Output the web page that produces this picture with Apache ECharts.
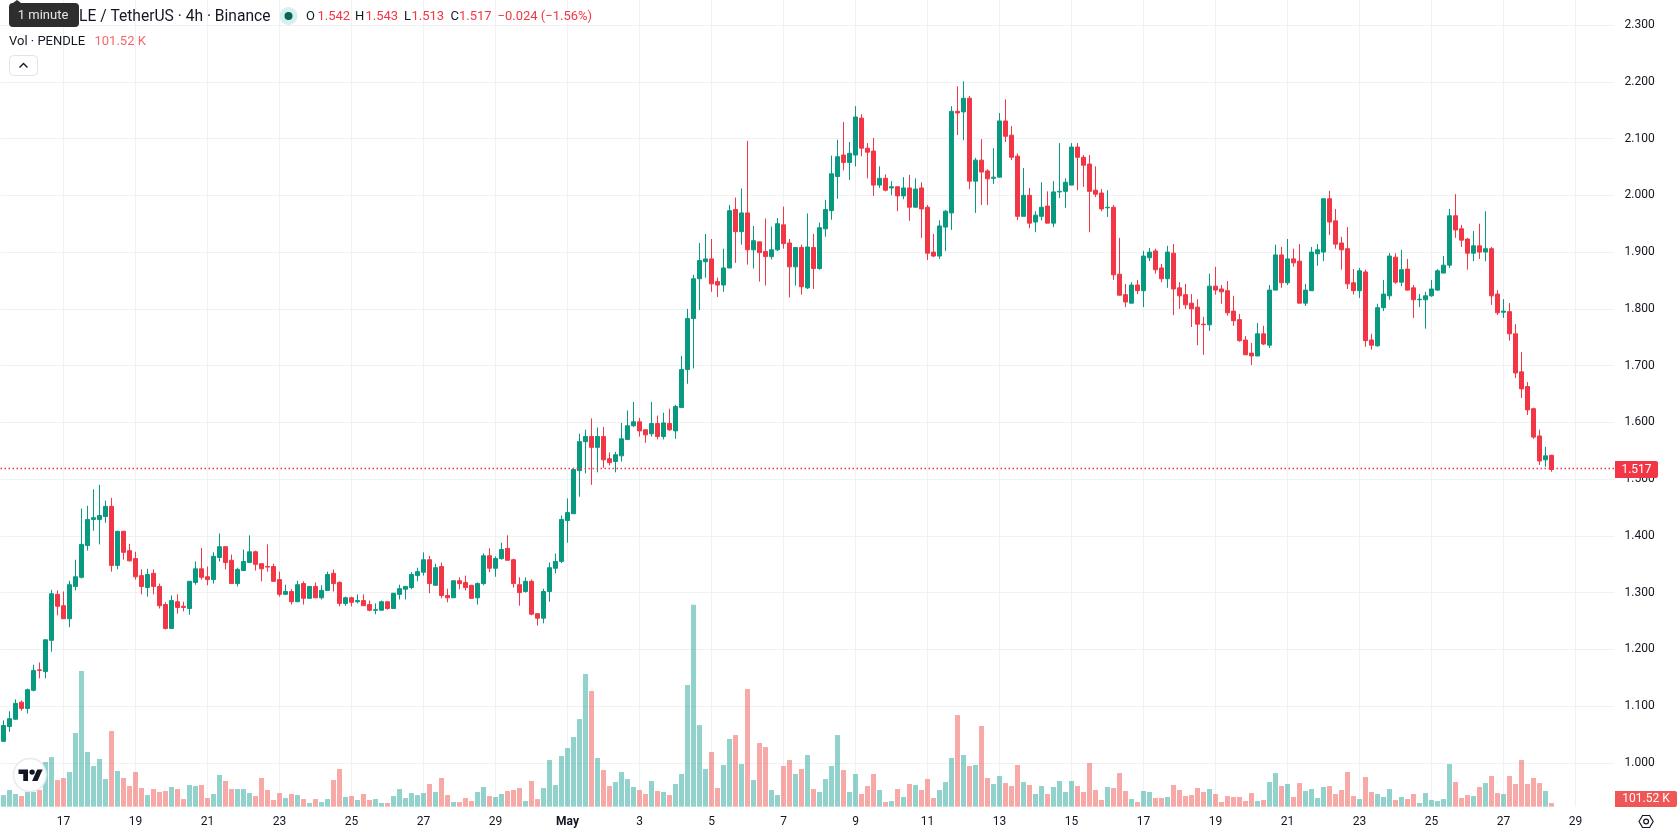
<!DOCTYPE html>
<html>
<head>
<meta charset="utf-8">
<title>PENDLE / TetherUS 4h</title>
<style>html,body{margin:0;padding:0;background:#fff}#chart{width:1678px;height:835px}</style>
<script src="https://cdn.jsdelivr.net/npm/echarts@6/dist/echarts.min.js"></script>
</head>
<body>
<div id="chart"></div>
<script>
// 4h candles, oldest first
const opens = [
1.038,1.064,1.077,1.107,1.096,1.128,1.164,1.161,1.216,1.297,
1.277,1.254,1.311,1.327,1.383,1.429,1.429,1.434,1.452,1.348,
1.408,1.374,1.360,1.330,1.309,1.334,1.311,1.279,1.237,1.284,
1.276,1.272,1.318,1.342,1.328,1.323,1.362,1.381,1.357,1.316,
1.339,1.353,1.372,1.351,1.346,1.346,1.323,1.297,1.302,1.284,
1.316,1.290,1.311,1.291,1.304,1.334,1.318,1.281,1.291,1.284,
1.286,1.279,1.269,1.269,1.284,1.272,1.297,1.306,1.309,1.330,
1.336,1.358,1.313,1.346,1.295,1.291,1.321,1.318,1.313,1.291,
1.316,1.365,1.343,1.360,1.378,1.358,1.314,1.302,1.320,1.263,
1.255,1.302,1.343,1.355,1.427,1.439,1.515,1.566,1.575,1.556,
1.575,1.536,1.531,1.541,1.570,1.594,1.601,1.587,1.580,1.598,
1.575,1.598,1.585,1.626,1.693,1.783,1.853,1.883,1.888,1.848,
1.842,1.872,1.975,1.936,1.969,1.904,1.918,1.901,1.892,1.904,
1.948,1.916,1.874,1.908,1.837,1.908,1.871,1.941,1.973,2.033,
2.071,2.058,2.071,2.136,2.083,2.078,2.018,2.030,2.013,2.015,
1.999,2.013,1.979,2.013,1.979,1.900,1.893,1.944,1.969,2.148,
2.147,2.171,2.025,2.062,2.043,2.030,2.032,2.131,2.106,2.069,
1.963,2.000,1.953,1.963,1.981,1.951,2.006,2.007,2.018,2.085,
2.067,2.055,2.009,2.004,1.978,1.979,1.861,1.825,1.810,1.842,
1.832,1.890,1.902,1.872,1.853,1.898,1.837,1.825,1.810,1.803,
1.773,1.772,1.840,1.835,1.832,1.796,1.781,1.745,1.722,1.717,
1.756,1.736,1.833,1.895,1.846,1.888,1.884,1.810,1.832,1.897,
1.900,1.994,1.955,1.916,1.906,1.846,1.832,1.865,1.745,1.735,
1.802,1.823,1.891,1.847,1.870,1.837,1.816,1.816,1.823,1.833,
1.863,1.877,1.964,1.941,1.923,1.898,1.911,1.900,1.906,1.826,
1.794,1.795,1.756,1.689,1.663,1.624,1.576,1.534,1.542];
const closes = [
1.066,1.078,1.105,1.096,1.129,1.163,1.163,1.217,1.298,1.276,
1.254,1.314,1.328,1.385,1.429,1.432,1.436,1.452,1.348,1.408,
1.371,1.356,1.328,1.311,1.332,1.311,1.277,1.237,1.286,1.274,
1.274,1.320,1.342,1.327,1.323,1.364,1.381,1.353,1.316,1.341,
1.355,1.372,1.350,1.342,1.345,1.320,1.297,1.302,1.284,1.314,
1.290,1.311,1.291,1.304,1.332,1.316,1.281,1.291,1.283,1.286,
1.277,1.269,1.270,1.284,1.272,1.299,1.307,1.311,1.332,1.337,
1.358,1.316,1.344,1.295,1.291,1.321,1.316,1.309,1.290,1.316,
1.365,1.343,1.360,1.376,1.357,1.316,1.300,1.320,1.262,1.255,
1.302,1.344,1.355,1.429,1.441,1.517,1.566,1.575,1.556,1.575,
1.534,1.529,1.543,1.571,1.594,1.601,1.585,1.578,1.598,1.575,
1.599,1.587,1.628,1.693,1.783,1.853,1.885,1.888,1.844,1.842,
1.872,1.973,1.936,1.969,1.904,1.920,1.899,1.892,1.904,1.950,
1.915,1.874,1.908,1.839,1.909,1.871,1.943,1.975,2.038,2.068,
2.058,2.074,2.138,2.083,2.076,2.018,2.030,2.009,2.015,1.999,
2.013,1.979,2.011,1.976,1.898,1.893,1.946,1.972,2.148,2.145,
2.171,2.025,2.062,2.041,2.029,2.032,2.131,2.104,2.067,1.963,
2.000,1.951,1.965,1.979,1.951,2.006,2.007,2.023,2.085,2.067,
2.053,2.007,2.002,1.976,1.979,1.860,1.824,1.812,1.842,1.832,
1.893,1.900,1.869,1.853,1.900,1.835,1.823,1.807,1.800,1.773,
1.772,1.840,1.833,1.830,1.793,1.779,1.744,1.719,1.717,1.756,
1.738,1.833,1.895,1.846,1.888,1.881,1.810,1.833,1.900,1.904,
1.994,1.953,1.914,1.904,1.844,1.832,1.867,1.744,1.736,1.802,
1.826,1.893,1.847,1.869,1.833,1.816,1.817,1.823,1.835,1.867,
1.877,1.964,1.939,1.921,1.898,1.911,1.900,1.906,1.823,1.793,
1.796,1.756,1.687,1.659,1.622,1.574,1.532,1.541,1.517];
const highs = [
1.075,1.091,1.112,1.110,1.131,1.173,1.177,1.217,1.305,1.304,
1.302,1.321,1.358,1.448,1.453,1.482,1.490,1.462,1.467,1.409,
1.409,1.386,1.372,1.341,1.342,1.341,1.316,1.283,1.295,1.297,
1.284,1.320,1.355,1.379,1.346,1.371,1.404,1.381,1.367,1.344,
1.376,1.401,1.374,1.351,1.385,1.351,1.337,1.314,1.306,1.321,
1.320,1.311,1.318,1.313,1.337,1.341,1.320,1.293,1.293,1.297,
1.297,1.286,1.281,1.286,1.284,1.299,1.314,1.311,1.336,1.344,
1.371,1.365,1.351,1.353,1.307,1.321,1.327,1.330,1.313,1.318,
1.369,1.378,1.364,1.388,1.401,1.360,1.327,1.327,1.323,1.263,
1.307,1.353,1.369,1.436,1.466,1.520,1.580,1.587,1.607,1.591,
1.592,1.547,1.548,1.599,1.621,1.636,1.608,1.587,1.636,1.612,
1.617,1.624,1.631,1.717,1.800,1.860,1.916,1.932,1.923,1.855,
1.906,1.983,1.996,2.012,2.096,1.946,1.918,1.959,1.945,1.960,
1.980,1.923,1.909,1.913,1.968,1.932,1.952,1.992,2.070,2.098,
2.129,2.094,2.157,2.143,2.092,2.101,2.051,2.037,2.025,2.016,
2.032,2.036,2.030,2.023,1.983,1.932,1.956,1.974,2.157,2.192,
2.201,2.175,2.066,2.099,2.046,2.083,2.145,2.169,2.122,2.074,
2.048,2.013,1.972,2.023,2.007,2.025,2.092,2.030,2.092,2.092,
2.071,2.071,2.051,2.011,2.009,1.983,1.925,1.844,1.847,1.851,
1.902,1.907,1.906,1.879,1.911,1.914,1.847,1.844,1.826,1.817,
1.786,1.862,1.874,1.842,1.849,1.823,1.791,1.752,1.740,1.775,
1.770,1.842,1.913,1.909,1.923,1.906,1.914,1.844,1.909,1.914,
1.994,2.008,1.976,1.927,1.944,1.870,1.872,1.869,1.756,1.809,
1.851,1.898,1.898,1.904,1.888,1.842,1.826,1.830,1.851,1.870,
1.893,1.976,2.002,1.948,1.925,1.937,1.950,1.972,1.909,1.833,
1.817,1.810,1.773,1.724,1.671,1.626,1.587,1.557,1.543];
const lows = [
1.038,1.055,1.076,1.092,1.087,1.126,1.149,1.149,1.196,1.260,
1.254,1.239,1.304,1.325,1.374,1.409,1.385,1.423,1.337,1.341,
1.358,1.355,1.323,1.297,1.293,1.297,1.272,1.235,1.237,1.263,
1.267,1.261,1.314,1.323,1.313,1.316,1.355,1.341,1.316,1.311,
1.339,1.353,1.339,1.320,1.337,1.320,1.293,1.297,1.279,1.284,
1.279,1.290,1.290,1.288,1.304,1.302,1.276,1.277,1.276,1.281,
1.277,1.267,1.262,1.269,1.270,1.272,1.288,1.288,1.306,1.320,
1.330,1.299,1.313,1.290,1.283,1.291,1.306,1.304,1.290,1.279,
1.313,1.336,1.328,1.358,1.357,1.309,1.277,1.300,1.260,1.242,
1.246,1.284,1.334,1.352,1.388,1.439,1.469,1.510,1.490,1.512,
1.520,1.524,1.512,1.531,1.570,1.592,1.575,1.564,1.575,1.570,
1.570,1.585,1.571,1.626,1.668,1.695,1.798,1.855,1.830,1.821,
1.830,1.872,1.881,1.913,1.878,1.871,1.848,1.841,1.887,1.902,
1.906,1.820,1.841,1.825,1.835,1.835,1.869,1.927,1.957,1.994,
2.044,2.027,2.051,2.069,2.030,1.999,2.013,2.007,2.000,1.972,
1.993,1.955,1.979,1.925,1.886,1.891,1.888,1.902,1.939,2.106,
2.097,2.011,1.969,1.983,1.983,2.020,2.032,2.094,2.062,1.956,
1.963,1.942,1.935,1.956,1.951,1.944,1.995,1.978,2.018,2.009,
2.015,1.935,1.997,1.972,1.962,1.851,1.824,1.803,1.810,1.826,
1.803,1.884,1.862,1.847,1.837,1.789,1.800,1.800,1.768,1.736,
1.719,1.761,1.825,1.809,1.788,1.770,1.742,1.719,1.701,1.717,
1.736,1.731,1.833,1.837,1.842,1.874,1.810,1.805,1.832,1.876,
1.884,1.930,1.906,1.869,1.835,1.825,1.819,1.733,1.728,1.733,
1.796,1.816,1.844,1.840,1.832,1.784,1.803,1.765,1.821,1.832,
1.863,1.872,1.925,1.909,1.869,1.884,1.888,1.884,1.807,1.789,
1.784,1.744,1.678,1.643,1.613,1.571,1.525,1.522,1.513];
// traded volume per candle, thousands of PENDLE
const volumes = [
323,462,351,295,406,406,462,1237,1375,738,
794,960,2040,3757,1514,1126,1320,766,2095,988,
794,572,960,517,323,489,406,434,545,489,
212,600,572,600,240,351,877,711,489,489,
489,378,295,794,462,185,378,240,351,323,
212,102,212,129,212,738,1043,268,295,185,
351,185,212,102,102,295,489,240,378,323,
378,628,406,794,323,129,129,240,157,406,
545,295,268,351,434,462,517,157,711,212,
517,1292,600,1403,1624,1929,2427,3674,3203,1348,
1015,572,683,960,766,545,462,351,711,434,
406,323,628,905,3369,5593,2261,1043,1514,517,
1154,1874,1984,1181,3258,738,1763,1652,462,323,
1126,1292,905,1043,1431,489,406,766,1126,1984,
1015,406,905,351,572,905,462,129,157,489,
268,628,600,462,766,240,462,683,1348,2538,
1431,1126,1154,2234,794,628,849,655,572,1154,
683,600,351,572,351,545,711,406,711,572,
406,1209,462,185,545,517,932,434,212,129,
434,406,240,240,268,600,462,295,323,517,
406,489,351,129,295,268,268,157,378,157,
185,683,932,572,628,268,655,434,489,240,
545,572,351,462,960,295,212,821,406,351,
268,489,185,268,212,351,102,378,185,157,
212,1181,683,240,323,295,545,655,849,378,
351,849,628,1292,628,794,655,434,101.52];

const priceTicks = [1.0,1.1,1.2,1.3,1.4,1.5,1.6,1.7,1.8,1.9,2.0,2.1,2.2,2.3];
const dateLabels = ['17','19','21','23','25','27','29','May','3','5','7','9','11','13','15','17','19','21','23','25','27','29'];
const lastPrice = 1.517;
const lastVolumeText = '101.52 K';

const FIRST_LABEL_INDEX = 10;   // candle sitting on the first dated tick
const LABEL_EVERY = 12;         // 6 candles a day, a label every second day
const FUTURE_SLOTS = 10;        // empty room to the right of the newest candle
const UP = '#089981', DOWN = '#F23645';
const FONT = 'Roboto, "Noto Sans", sans-serif';
const INK = '#131722';
const GRID_LINE = '#f0f1f3';

const slots = [];
for (let i = 0; i < opens.length + FUTURE_SLOTS; i++) slots.push(String(i));
const isDated = i => i >= FIRST_LABEL_INDEX && (i - FIRST_LABEL_INDEX) % LABEL_EVERY === 0;

const candles = opens.map((o, i) => [o, closes[i], lows[i], highs[i]]);

function label(text, x, y, fill, size, extra, z) {
  return {type: 'text', z: z || 30, silent: true, style: Object.assign({
    text, x, y, fill, font: `${size}px ${FONT}`, textVerticalAlign: 'middle', textBaseline: 'middle'
  }, extra || {})};
}

const overlay = [
  // headline
  label('LE / TetherUS · 4h · Binance', 79, 17, INK, 15.6),
  {type: 'circle', z: 30, silent: true, shape: {cx: 288.5, cy: 16, r: 9}, style: {fill: '#d9efec'}},
  {type: 'circle', z: 31, silent: true, shape: {cx: 288.5, cy: 16, r: 4}, style: {fill: '#056656'}},
  label('O', 306, 17, INK, 13), label('1.542', 317.5, 17, DOWN, 13),
  label('H', 355, 17, INK, 13), label('1.543', 365.5, 17, DOWN, 13),
  label('L', 404, 17, INK, 13), label('1.513', 411.5, 17, DOWN, 13),
  label('C', 450.5, 17, INK, 13), label('1.517', 459, 17, DOWN, 13),
  label('−0.024 (−1.56%)', 497.5, 17, DOWN, 13),
  label('Vol · PENDLE', 9, 41.5, INK, 13),
  label(lastVolumeText, 94.5, 41.5, '#F6676B', 13),
  // collapse button
  {type: 'rect', z: 30, silent: true, shape: {x: 9.5, y: 55.5, width: 28, height: 20, r: 4}, style: {fill: '#fff', stroke: '#e0e3eb', lineWidth: 1}},
  {type: 'polyline', z: 31, silent: true, shape: {points: [[19.5, 67.5], [23.5, 63.5], [27.5, 67.5]]}, style: {stroke: INK, lineWidth: 1.4, fill: 'none'}},
  // hover hint
  {type: 'rect', z: 32, silent: true, shape: {x: 9, y: 3, width: 70, height: 24, r: 4}, style: {fill: '#2e2e2e'}},
  {type: 'polygon', z: 32, silent: true, shape: {points: [[13, 3], [17, 0], [21, 3]]}, style: {fill: '#2e2e2e'}},
  label('1 minute', 43, 15.5, '#e6e6e6', 13, {textAlign: 'center', align: 'center'}, 33),
  // last price and last volume tags
  {type: 'rect', z: 30, silent: true, shape: {x: 1615, y: 461, width: 43, height: 17, r: [0, 2, 2, 0]}, style: {fill: DOWN}},
  label('1.517', 1636.5, 469.5, '#fff', 12, {textAlign: 'center', align: 'center'}, 31),
  {type: 'rect', z: 30, silent: true, shape: {x: 1615, y: 791, width: 62, height: 16, r: [0, 2, 2, 0]}, style: {fill: '#F05656'}},
  label(lastVolumeText, 1646, 799, '#fff', 12, {textAlign: 'center', align: 'center'}, 31),
  // settings cog
  {type: 'polygon', z: 30, silent: true, shape: {points: [[1639, 821.5], [1642.6, 815.5], [1649.6, 815.5], [1653.2, 821.5], [1649.6, 827.5], [1642.6, 827.5]]}, style: {fill: '#fff', stroke: INK, lineWidth: 1.2}},
  {type: 'circle', z: 31, silent: true, shape: {cx: 1646.1, cy: 821.5, r: 2.4}, style: {fill: '#fff', stroke: INK, lineWidth: 1.2}},
  // watermark badge
  {type: 'circle', z: 28, silent: true, shape: {cx: 30, cy: 775, r: 16.5}, style: {fill: 'rgba(255,255,255,0.92)', stroke: 'rgba(224,227,235,0.8)', lineWidth: 1.5}},
  {type: 'group', z: 29, silent: true, x: 18.5, y: 767, scaleX: 0.68, scaleY: 0.64, children: [
    {type: 'polygon', z: 29, shape: {points: [[14, 22], [7, 22], [7, 11], [0, 11], [0, 4], [14, 4]]}, style: {fill: '#131722'}},
    {type: 'polygon', z: 29, shape: {points: [[28, 22], [20, 22], [27.5, 4], [35.5, 4]]}, style: {fill: '#131722'}},
    {type: 'circle', z: 29, shape: {cx: 20, cy: 8, r: 4}, style: {fill: '#131722'}}
  ]}
];

const chart = echarts.init(document.getElementById('chart'), null, {renderer: 'canvas'});
chart.setOption({
  animation: false,
  backgroundColor: '#fff',
  textStyle: {fontFamily: FONT},
  grid: {left: 0.5, top: 0, width: 1614, height: 806.7, containLabel: false},
  xAxis: {
    type: 'category',
    data: slots,
    boundaryGap: true,
    axisLine: {show: false},
    axisTick: {show: false},
    axisLabel: {
      interval: (i) => isDated(i),
      margin: 9,
      color: INK,
      fontSize: 12,
      fontFamily: FONT,
      formatter: (v, i) => {
        const t = dateLabels[(i - FIRST_LABEL_INDEX) / LABEL_EVERY];
        return t === 'May' ? '{b|May}' : t;
      },
      rich: {b: {fontWeight: 'bold', fontSize: 12, fontFamily: FONT, color: INK}}
    },
    splitLine: {show: true, alignWithLabel: true, interval: (i) => isDated(i), lineStyle: {color: GRID_LINE, width: 1}}
  },
  yAxis: [
    {
      type: 'value',
      position: 'right',
      min: 0.9229,
      max: 2.3441,
      axisLine: {show: false},
      axisTick: {show: false, customValues: priceTicks},
      axisLabel: {customValues: priceTicks, margin: 10, padding: [3, 0, 0, 0], color: INK, fontSize: 12, fontFamily: FONT, formatter: v => v.toFixed(3)},
      splitLine: {show: true, lineStyle: {color: GRID_LINE, width: 1}}
    },
    {
      type: 'value',
      position: 'right',
      min: 0,
      max: 22336,
      axisLine: {show: false},
      axisTick: {show: false},
      axisLabel: {show: false},
      splitLine: {show: false}
    }
  ],
  series: [
    {
      name: 'Vol',
      type: 'bar',
      yAxisIndex: 1,
      barWidth: 5,
      z: 2,
      data: volumes.map((v, i) => ({
        value: v,
        itemStyle: {color: closes[i] >= opens[i] ? 'rgba(38,166,154,0.5)' : 'rgba(239,83,80,0.5)'}
      }))
    },
    {
      name: 'Last price',
      type: 'line',
      yAxisIndex: 0,
      z: 4,
      showSymbol: false,
      silent: true,
      data: [],
      itemStyle: {color: DOWN},
      markLine: {
        silent: true,
        symbol: 'none',
        label: {show: false},
        data: [{yAxis: lastPrice, lineStyle: {color: DOWN, type: [1.5, 2.5], width: 1.3, opacity: 1}}]
      }
    },
    {
      name: 'PENDLE / TetherUS',
      type: 'candlestick',
      yAxisIndex: 0,
      barWidth: 4,
      z: 3,
      data: candles,
      itemStyle: {color: UP, color0: DOWN, borderColor: UP, borderColor0: DOWN, borderWidth: 1}
    }
  ],
  graphic: {elements: overlay}
});
</script>
</body>
</html>
